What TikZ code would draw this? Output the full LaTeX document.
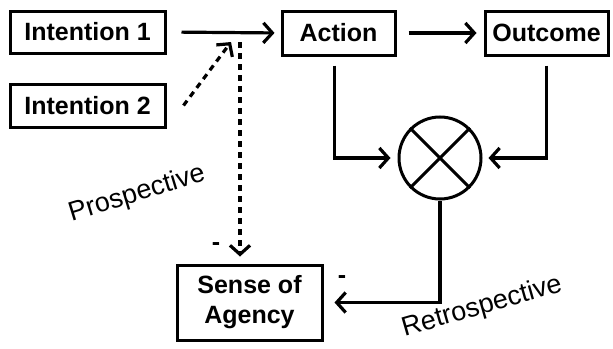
\documentclass[tikz,border=0pt]{standalone}
\usepackage{fontspec}
\setmainfont{Liberation Sans}
\usetikzlibrary{arrows.meta}

\tikzset{
  box/.style={draw, line width=3pt, font=\fontsize{25}{30}\selectfont\bfseries, inner sep=0pt, align=center},
  link/.style={line width=3.2pt, -{Straight Barb[length=9pt,width=20pt,line width=3.2pt]}},
  dots/.style={link, dash pattern=on 6pt off 5pt},
  slant/.style={font=\fontsize{27}{32}\selectfont}
}

\begin{document}
\begin{tikzpicture}[x=1pt, y=-1pt]
             \useasboundingbox (0,0) rectangle (613,348);

             \node[box, minimum width=155, minimum height=42] (int1) at (87.5, 32) {Intention 1};
             \node[box, minimum width=155, minimum height=43] (int2) at (87.5, 105.5) {Intention 2};
             \node[box, minimum width=113, minimum height=44] (act) at (338.5, 33) {Action};
             \node[box, minimum width=123, minimum height=44] (out) at (546.5, 33) {Outcome};
             \node[box, minimum width=145, minimum height=75] (soa) at (249.5, 302.5) {Sense of\\Agency};

             % comparator
             \node[draw, circle, line width=3pt, minimum size=82, inner sep=0pt] (cmp) at (440, 158) {};
             \draw[line width=3pt] (cmp.north west) -- (cmp.south east);
             \draw[line width=3pt] (cmp.north east) -- (cmp.south west);

             \coordinate (j) at (240, 32);
             \coordinate (jd) at (231, 42);

             \draw[link, shorten <=15pt, shorten >=6pt] (int1.east) -- (act.west);
             \draw[link, shorten <=12pt, shorten >=7pt] (act.east) -- (out.west);
             \draw[dots] ([xshift=17pt]int2.east) -- (jd);
             \draw[dots, shorten <=10pt, shorten >=7pt] (j) -- (j |- soa.north);

             \draw[link, shorten <=9pt, shorten >=7pt] ([xshift=-4pt]act.south) |- (cmp.west);
             \draw[link, shorten <=9pt, shorten >=6pt] (out.south) |- (cmp.east);
             \draw[link, shorten >=11pt] (cmp.south) |- (soa.east);

             \node[draw=none, font=\fontsize{25}{30}\selectfont\bfseries] (m1) at (216, 247) {-};
             \node[draw=none, font=\fontsize{25}{30}\selectfont\bfseries] (m2) at (342, 280) {-};

             \node[draw=none, slant, rotate=17] (pro) at (137, 194) {Prospective};
             \node[draw=none, slant, rotate=16] (retro) at (482, 307) {Retrospective};
\end{tikzpicture}
\end{document}
